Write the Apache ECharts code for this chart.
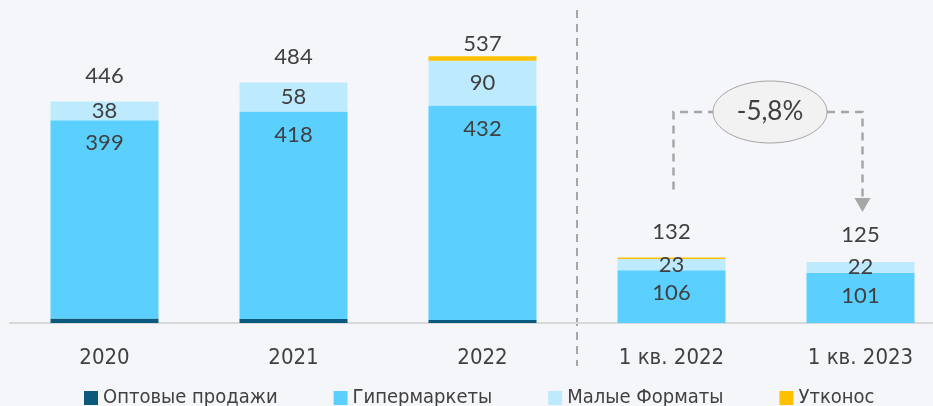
<!DOCTYPE html>
<html>
<head>
<meta charset="utf-8">
<script src="https://cdn.jsdelivr.net/npm/echarts@6/dist/echarts.min.js"></script>
<style>
  html, body { margin: 0; padding: 0; background: #F5F6FA; }
  #main { width: 933px; height: 406px; }
</style>
</head>
<body>
<div id="main"></div>
<script>
var categories = ['2020', '2021', '2022', '1 кв. 2022', '1 кв. 2023'];
var seriesNames = ['Оптовые продажи', 'Гипермаркеты', 'Малые Форматы', 'Утконос'];
var wholesale = [9, 8, 6, 0, 0];
var hyper = [399, 418, 432, 106, 101];
var small = [38, 58, 90, 23, 22];
var utkonos = [0, 0, 9, 3, 0];
var totals = [446, 484, 537, 132, 125];
var changeText = '-5,8%';

var colors = ['#0B5A7E', '#5BD0FF', '#BDEBFD', '#FFC000'];
var labelFont = 'Lato, "Noto Sans", sans-serif';
var narrowFont = '"Liberation Sans Narrow", "DejaVu Sans Condensed", sans-serif';
var textColor = '#404040';
var barW = 108;

var myChart = echarts.init(document.getElementById('main'));

function stackSeries(name, data, color, label) {
    return {
        name: name,
        type: 'bar',
        stack: 'total',
        barWidth: barW,
        data: data,
        itemStyle: { color: color },
        label: label || { show: false },
        emphasis: { disabled: true }
    };
}

var valueLabel = {
    color: textColor,
    fontFamily: labelFont,
    fontSize: 22
};

var option = {
    backgroundColor: '#F5F6FA',
    animation: false,
    grid: { left: 10, top: 25, width: 945, height: 298, outerBoundsMode: 'none', containLabel: false },
    legend: {
        data: seriesNames,
        top: 383,
        left: 79,
        itemWidth: 14,
        itemHeight: 14,
        itemGap: 56,
        icon: 'rect',
        textStyle: { color: textColor, fontFamily: narrowFont, fontSize: 20 }
    },
    xAxis: {
        type: 'category',
        data: categories,
        axisLine: { lineStyle: { color: '#D9D9D9', width: 2 } },
        axisTick: { show: false },
        axisLabel: { color: textColor, fontFamily: narrowFont, fontSize: 22, margin: 24 }
    },
    yAxis: {
        type: 'value',
        min: 0,
        max: 600,
        show: false,
        splitLine: { show: false }
    },
    series: [
        stackSeries(seriesNames[0], wholesale, colors[0]),
        stackSeries(seriesNames[1], hyper, colors[1], Object.assign({
            show: true, position: 'insideTop', distance: 12
        }, valueLabel)),
        stackSeries(seriesNames[2], small, colors[2], Object.assign({
            show: true, position: 'inside'
        }, valueLabel)),
        stackSeries(seriesNames[3], utkonos, colors[3]),
        {
            name: 'Итого',
            type: 'bar',
            barWidth: barW,
            barGap: '-100%',
            z: 1,
            itemStyle: { color: 'rgba(0,0,0,0)' },
            emphasis: { disabled: true },
            label: Object.assign({ show: true, position: 'top', distance: 15 }, valueLabel),
            data: totals.map(function (t, i) {
                // 2022 label sits closer to the bar in the original
                return i === 2 ? { value: t, label: { distance: 1 } } : t;
            })
        }
    ]
};

myChart.setOption(option);

// separator and change annotation
var p2 = myChart.convertToPixel({ seriesIndex: 0 }, [2, 0]);
var p3 = myChart.convertToPixel({ seriesIndex: 0 }, [3, 0]);
var p4 = myChart.convertToPixel({ seriesIndex: 0 }, [4, 0]);
var sepX = (p2[0] + p3[0]) / 2;
var top3 = myChart.convertToPixel({ seriesIndex: 0 }, [3, totals[3]])[1];
var top4 = myChart.convertToPixel({ seriesIndex: 0 }, [4, totals[4]])[1];
var dash = { stroke: '#A6A6A6', lineWidth: 2.5, lineDash: [8, 6] };
var ellX = (p3[0] + p4[0]) / 2 + 4;
var ellY = 112;
var leftX = p3[0] + 2;
var rightX = p4[0] + 2;
var tipY = top4 - 49;

myChart.setOption({
    graphic: [
        {
            type: 'line', silent: true,
            shape: { x1: sepX, y1: 10, x2: sepX, y2: 366 },
            style: { stroke: '#A6A6A6', lineWidth: 2, lineDash: [8, 6] }
        },
        {
            type: 'polyline', silent: true,
            shape: { points: [[leftX, top3 - 68], [leftX, ellY], [ellX - 57, ellY]] },
            style: Object.assign({ fill: null }, dash)
        },
        {
            type: 'polyline', silent: true,
            shape: { points: [[ellX + 57, ellY], [rightX, ellY], [rightX, tipY - 12]] },
            style: Object.assign({ fill: null }, dash)
        },
        {
            type: 'polygon', silent: true,
            shape: { points: [[rightX - 8, tipY - 14], [rightX + 8, tipY - 14], [rightX, tipY]] },
            style: { fill: '#A6A6A6' }
        },
        {
            type: 'ellipse', silent: true,
            shape: { cx: ellX, cy: ellY, rx: 57, ry: 31 },
            style: { fill: '#F2F2F2', stroke: '#A6A6A6', lineWidth: 1 }
        },
        {
            type: 'text', silent: true,
            x: ellX, y: ellY,
            style: {
                text: changeText,
                fill: textColor,
                font: '26px ' + labelFont,
                align: 'center',
                verticalAlign: 'middle'
            }
        }
    ]
});
</script>
</body>
</html>
